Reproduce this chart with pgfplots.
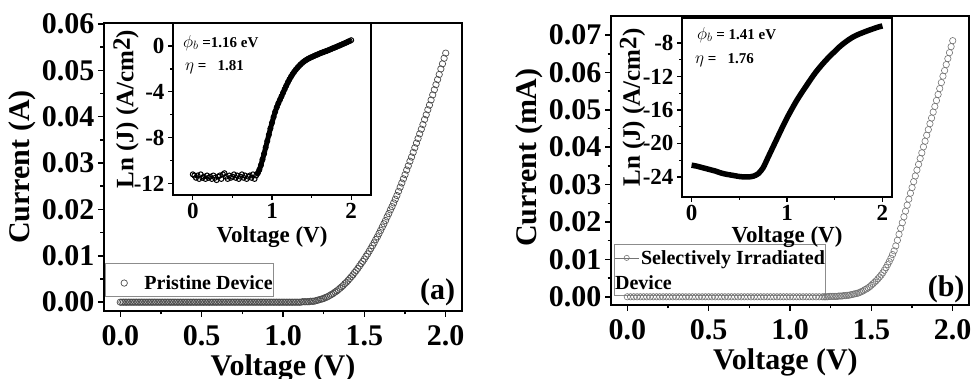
\documentclass[border=0pt]{standalone}
\usepackage{pgfplots}
\pgfplotsset{compat=1.18}
\usepackage{pgfplotstable}
\usepackage{fontspec}
\setmainfont{Liberation Serif}
\newcommand\fA{\fontsize{30}{32}\selectfont\bfseries}
\newcommand\fB{\fontsize{23}{25}\selectfont\bfseries}
\newcommand\fY{\fontsize{25}{27}\selectfont\bfseries}
\newcommand\fL{\fontsize{20}{25}\selectfont\bfseries}
\newcommand\fN{\fontsize{15}{17}\selectfont\bfseries}

\pgfplotstableread[row sep=\\]{x y\\
0.00 0\\0.01 0\\0.02 0\\0.03 0\\0.04 0\\0.05 0\\0.06 0\\0.07 0\\0.08 0\\0.09 0\\
0.10 0\\0.11 0\\0.12 0\\0.13 0\\0.14 0\\0.15 0\\0.16 0\\0.17 0\\0.18 0\\0.19 0\\
0.20 0\\0.21 0\\0.22 0\\0.23 0\\0.24 0\\0.25 0\\0.26 0\\0.27 0\\0.28 0\\0.29 0\\
0.30 0\\0.31 0\\0.32 0\\0.33 0\\0.34 0\\0.35 0\\0.36 0\\0.37 0\\0.38 0\\0.39 0\\
0.40 0\\0.41 0\\0.42 0\\0.43 0\\0.44 0\\0.45 0\\0.46 0\\0.47 0\\0.48 0\\0.49 0\\
0.50 0\\0.51 0\\0.52 0\\0.53 0\\0.54 0\\0.55 0\\0.56 0\\0.57 0\\0.58 0\\0.59 0\\
0.60 0\\0.61 0\\0.62 0\\0.63 0\\0.64 0\\0.65 0\\0.66 0\\0.67 0\\0.68 0\\0.69 0\\
0.70 0\\0.71 0\\0.72 0\\0.73 0\\0.74 0\\0.75 0\\0.76 0\\0.77 0\\0.78 0\\0.79 0\\
0.80 0\\0.81 0\\0.82 0\\0.83 0\\0.84 0\\0.85 0\\0.86 0\\0.87 0\\0.88 0\\0.89 0\\
0.90 0\\0.91 0\\0.92 0\\0.93 0\\0.94 0\\0.95 0\\0.96 0\\0.97 0\\0.98 0\\0.99 0\\
1.00 0\\1.01 0\\1.02 0\\1.03 0\\1.04 0\\1.05 0\\1.06 0\\1.07 0\\1.08 0\\1.09 0\\
1.10 0.0000\\1.11 0.0000\\1.12 0.0001\\1.13 0.0001\\1.14 0.0001\\1.15 0.0001\\1.16 0.0001\\1.17 0.0002\\1.18 0.0002\\1.19 0.0002\\
1.20 0.0003\\1.21 0.0004\\1.22 0.0005\\1.23 0.0006\\1.24 0.0007\\1.25 0.0008\\1.26 0.0010\\1.27 0.0011\\1.28 0.0013\\1.29 0.0015\\
1.30 0.0017\\1.31 0.0019\\1.32 0.0022\\1.33 0.0024\\1.34 0.0027\\1.35 0.0030\\1.36 0.0033\\1.37 0.0036\\1.38 0.0040\\1.39 0.0043\\
1.40 0.0047\\1.41 0.0051\\1.42 0.0055\\1.43 0.0059\\1.44 0.0064\\1.45 0.0068\\1.46 0.0073\\1.47 0.0078\\1.48 0.0083\\1.49 0.0088\\
1.50 0.0093\\1.51 0.0099\\1.52 0.0104\\1.53 0.0110\\1.54 0.0116\\1.55 0.0122\\1.56 0.0128\\1.57 0.0135\\1.58 0.0141\\1.59 0.0148\\
1.60 0.0155\\1.61 0.0162\\1.62 0.0169\\1.63 0.0176\\1.64 0.0184\\1.65 0.0191\\1.66 0.0199\\1.67 0.0206\\1.68 0.0214\\1.69 0.0222\\
1.70 0.0230\\1.71 0.0239\\1.72 0.0248\\1.73 0.0257\\1.74 0.0266\\1.75 0.0275\\1.76 0.0285\\1.77 0.0294\\1.78 0.0304\\1.79 0.0313\\
1.80 0.0323\\1.81 0.0333\\1.82 0.0343\\1.83 0.0353\\1.84 0.0363\\1.85 0.0373\\1.86 0.0383\\1.87 0.0394\\1.88 0.0404\\1.89 0.0415\\
1.90 0.0425\\1.91 0.0436\\1.92 0.0447\\1.93 0.0458\\1.94 0.0469\\1.95 0.0480\\1.96 0.0491\\1.97 0.0503\\1.98 0.0514\\1.99 0.0526\\
2.00 0.0537\\
}\dataA

\pgfplotstableread[row sep=\\]{x y\\
0.00 -11.2\\0.02 -11.3\\0.04 -11.5\\0.06 -11.3\\0.08 -11.6\\0.10 -11.2\\0.12 -11.5\\0.14 -11.4\\0.16 -11.6\\0.18 -11.3\\
0.20 -11.5\\0.22 -11.4\\0.24 -11.6\\0.26 -11.3\\0.28 -11.5\\0.30 -11.7\\0.32 -11.4\\0.34 -11.3\\0.36 -11.6\\0.38 -11.2\\
0.40 -11.1\\0.42 -11.4\\0.44 -11.6\\0.46 -11.3\\0.48 -11.5\\0.50 -11.4\\0.52 -11.2\\0.54 -11.5\\0.56 -11.3\\0.58 -11.6\\
0.60 -11.4\\0.62 -11.2\\0.64 -11.5\\0.66 -11.3\\0.68 -11.6\\0.70 -11.4\\0.72 -11.3\\0.74 -11.5\\0.76 -11.2\\0.78 -11.6\\
0.80 -11.3\\0.82 -11.1\\0.84 -10.8\\0.86 -10.4\\0.88 -9.9\\0.90 -9.4\\0.92 -8.85\\0.94 -8.3\\0.96 -7.75\\0.98 -7.2\\
1.00 -6.7\\1.02 -6.2\\1.04 -5.75\\1.06 -5.35\\1.08 -5.0\\1.10 -4.7\\1.12 -4.4\\1.14 -4.08\\1.16 -3.77\\1.18 -3.47\\
1.20 -3.18\\1.22 -2.92\\1.24 -2.68\\1.26 -2.46\\1.28 -2.26\\1.30 -2.08\\1.32 -1.91\\1.34 -1.76\\1.36 -1.62\\1.38 -1.49\\
1.40 -1.38\\1.42 -1.28\\1.44 -1.19\\1.46 -1.11\\1.48 -1.04\\1.50 -0.97\\1.52 -0.91\\1.54 -0.85\\1.56 -0.79\\1.58 -0.73\\
1.60 -0.67\\1.62 -0.61\\1.64 -0.56\\1.66 -0.51\\1.68 -0.46\\1.70 -0.41\\1.72 -0.35\\1.74 -0.29\\1.76 -0.23\\1.78 -0.17\\
1.80 -0.12\\1.82 -0.06\\1.84 0.00\\1.86 0.06\\1.88 0.12\\1.90 0.18\\1.92 0.24\\1.94 0.30\\1.96 0.37\\1.98 0.43\\
2.00 0.50\\
}\dataAin

\pgfplotstableread[row sep=\\]{x y\\
0.00 0\\0.02 0\\0.04 0\\0.06 0\\0.08 0\\0.10 0\\0.12 0\\0.14 0\\0.16 0\\0.18 0\\
0.20 0\\0.22 0\\0.24 0\\0.26 0\\0.28 0\\0.30 0\\0.32 0\\0.34 0\\0.36 0\\0.38 0\\
0.40 0\\0.42 0\\0.44 0\\0.46 0\\0.48 0\\0.50 0\\0.52 0\\0.54 0\\0.56 0\\0.58 0\\
0.60 0\\0.62 0\\0.64 0\\0.66 0\\0.68 0\\0.70 0\\0.72 0\\0.74 0\\0.76 0\\0.78 0\\
0.80 0\\0.82 0\\0.84 0\\0.86 0\\0.88 0\\0.90 0\\0.92 0\\0.94 0\\0.96 0\\0.98 0\\
1.00 0\\1.02 0\\1.04 0\\1.06 0\\1.08 0\\1.10 0\\1.12 0\\1.14 0\\1.16 0\\1.18 0\\
1.20 0.0000\\1.21 0.0000\\1.22 0.0000\\1.23 0.0000\\1.24 0.0001\\1.25 0.0001\\1.26 0.0001\\1.27 0.0001\\1.28 0.0001\\1.29 0.0001\\
1.30 0.0002\\1.31 0.0002\\1.32 0.0002\\1.33 0.0003\\1.34 0.0003\\1.35 0.0004\\1.36 0.0004\\1.37 0.0005\\1.38 0.0006\\1.39 0.0007\\
1.40 0.0008\\1.41 0.0009\\1.42 0.0010\\1.43 0.0012\\1.44 0.0014\\1.45 0.0016\\1.46 0.0019\\1.47 0.0021\\1.48 0.0024\\1.49 0.0027\\
1.50 0.0031\\1.51 0.0035\\1.52 0.0039\\1.53 0.0043\\1.54 0.0048\\1.55 0.0053\\1.56 0.0058\\1.57 0.0064\\1.58 0.0071\\1.59 0.0078\\
1.60 0.0086\\1.61 0.0094\\1.62 0.0103\\1.63 0.0113\\1.64 0.0123\\1.65 0.0136\\1.66 0.0151\\1.67 0.0167\\1.68 0.0183\\1.69 0.0198\\
1.70 0.0214\\1.71 0.0229\\1.72 0.0245\\1.73 0.0261\\1.74 0.0277\\1.75 0.0292\\1.76 0.0308\\1.77 0.0323\\1.78 0.0339\\1.79 0.0354\\
1.80 0.0370\\1.81 0.0385\\1.82 0.0401\\1.83 0.0416\\1.84 0.0432\\1.85 0.0447\\1.86 0.0463\\1.87 0.0478\\1.88 0.0494\\1.89 0.0509\\
1.90 0.0525\\1.91 0.0541\\1.92 0.0557\\1.93 0.0573\\1.94 0.0590\\1.95 0.0605\\1.96 0.0621\\1.97 0.0637\\1.98 0.0653\\1.99 0.0669\\
2.00 0.0685\\
}\dataB

\pgfplotstableread[row sep=\\]{x y\\
0.00 -22.6\\0.05 -22.7\\0.10 -22.85\\0.15 -23.0\\0.20 -23.15\\0.25 -23.3\\0.30 -23.5\\0.35 -23.65\\0.40 -23.75\\0.45 -23.85\\
0.50 -23.95\\0.55 -24.0\\0.60 -24.0\\0.65 -23.9\\0.70 -23.6\\0.75 -22.9\\0.80 -21.7\\0.85 -20.5\\0.90 -19.3\\0.95 -18.1\\
1.00 -16.95\\1.05 -15.9\\1.10 -14.9\\1.15 -14.0\\1.20 -13.15\\1.25 -12.3\\1.30 -11.5\\1.35 -10.8\\1.40 -10.15\\1.45 -9.55\\
1.50 -9.0\\1.55 -8.45\\1.60 -7.98\\1.65 -7.57\\1.70 -7.22\\1.75 -6.95\\1.80 -6.72\\1.85 -6.5\\1.90 -6.3\\1.95 -6.1\\
2.00 -5.95\\
}\dataBin

\pgfplotsset{
  mainax/.style={scale only axis, anchor=south west,
    axis line style={line width=2pt}, tick style={line width=1.5pt, black},
    tick align=outside, major tick length=6pt, minor tick length=3.5pt,
    xtick pos=bottom, ytick pos=left, minor tick num=1,
    tick label style={font=\fA}, label style={font=\fA},
    /pgf/number format/assume math mode=true,
    xmin=-0.1, xmax=2.1, xtick={0,0.5,1,1.5,2},
    xticklabel style={yshift=-5pt, /pgf/number format/fixed, /pgf/number format/fixed zerofill, /pgf/number format/precision=1},
    yticklabel style={/pgf/number format/fixed, /pgf/number format/fixed zerofill, /pgf/number format/precision=2},
    scaled y ticks=false, scaled x ticks=false, clip=false,
    legend cell align=left,
    legend style={draw=none, fill=none, inner sep=0pt, font=\fL, nodes={inner sep=0pt}}},
  insetax/.style={scale only axis, anchor=south west,
    axis background/.style={fill=white},
    axis line style={line width=2pt}, tick style={line width=1.3pt, black},
    tick align=outside, major tick length=5pt, minor tick length=3pt,
    xtick pos=bottom, ytick pos=left, minor tick num=1,
    tick label style={font=\fB}, xlabel style={font=\fB}, ylabel style={font=\fY},
    /pgf/number format/assume math mode=true, clip=false},
}

\begin{document}
\begin{tikzpicture}
\path[use as bounding box] (0,0) rectangle (971pt,379pt);

% ---------- panel (a) ----------
\begin{axis}[mainax, at={(104pt,68pt)}, width=358pt, height=288pt,
  ymin=-0.0019, ymax=0.0602, ytick={0,0.01,0.02,0.03,0.04,0.05,0.06},
  xlabel={Voltage (V)}, ylabel={Current (A)},
  xlabel style={at={(axis description cs:0.5,-0.152)}, anchor=north, inner sep=0pt},
  ylabel style={at={(axis description cs:-0.228,0.5)}, anchor=center, inner sep=0pt},
  legend style={at={(axis description cs:0.047,0.097)}, anchor=west,
    /tikz/every odd column/.append style={column sep=17pt}}]
\draw[black!45, line width=0.6pt] (axis description cs:0.003,0.167) rectangle (axis description cs:0.472,0.052);
\addplot[only marks, mark=o, mark size=3.2pt, color=black!70,
  mark options={line width=0.7pt}] table {\dataA};
\addlegendentry{Pristine Device}
\node[font=\fA] at (axis description cs:0.932,0.066) {(a)};
\end{axis}

\begin{axis}[insetax, at={(173pt,184pt)}, width=198pt, height=172pt,
  xmin=-0.25, xmax=2.25, ymin=-13, ymax=2, xtick={0,1,2}, ytick={-12,-8,-4,0},
  xlabel={Voltage (V)}, ylabel={Ln (J) (A/cm\raisebox{0.3ex}{2})},
  xlabel style={at={(axis description cs:0.5,-0.18)}, anchor=north, inner sep=0pt},
  ylabel style={at={(axis description cs:-0.237,0.5)}, anchor=center, inner sep=0pt}]
\addplot[black, line width=5pt, smooth, restrict x to domain=0.79:2.1] table {\dataAin};
\addplot[only marks, mark=o, mark size=2.5pt, black, mark options={line width=1pt}] table {\dataAin};
\node[anchor=west, font=\fN, inner sep=0pt] at (axis description cs:0.05,0.884)
  {{\fontsize{18}{18}\selectfont$\phi_b$} =1.16 eV};
\node[anchor=west, font=\fN, inner sep=0pt] at (axis description cs:0.06,0.744)
  {{\fontsize{17}{17}\selectfont$\eta$} = \ \ 1.81};
\end{axis}

% ---------- panel (b) ----------
\begin{axis}[mainax, at={(611pt,74pt)}, width=358pt, height=289pt,
  ymin=-0.0022, ymax=0.0751, ytick={0,0.01,0.02,0.03,0.04,0.05,0.06,0.07},
  xlabel={Voltage (V)}, ylabel={Current (mA)},
  xlabel style={at={(axis description cs:0.487,-0.152)}, anchor=north, inner sep=0pt},
  ylabel style={at={(axis description cs:-0.229,0.51)}, anchor=center, inner sep=0pt},
  legend style={at={(axis description cs:0.009,0.163)}, anchor=west,
    /tikz/every odd column/.append style={column sep=2pt}},
  legend image code/.code={\draw[#1, mark repeat=2, mark phase=2] plot coordinates {(0pt,0pt) (12pt,0pt) (24pt,0pt)};}]
\draw[black!45, line width=0.6pt] (axis description cs:0.008,0.211) rectangle (axis description cs:0.598,0.035);
\addplot[only marks, mark=o, mark size=3.2pt, color=black!55,
  mark options={line width=0.6pt, fill=white}, forget plot] table {\dataB};
\addlegendimage{black!55, mark=o, mark size=2.6pt, line width=0.6pt, mark options={solid, fill=white}}
\addlegendentry{Selectively Irradiated}
\node[anchor=west, font=\fL, inner sep=0pt] at (axis description cs:0.011,0.076) {Device};
\node[font=\fA] at (axis description cs:0.936,0.055) {(b)};
\end{axis}

\begin{axis}[insetax, at={(682pt,182pt)}, width=210pt, height=179pt,
  xmin=-0.1, xmax=2.1, ymin=-26.4, ymax=-5, xtick={0,1,2}, ytick={-24,-20,-16,-12,-8},
  xlabel={Voltage (V)}, ylabel={Ln (J) (A/cm\raisebox{0.3ex}{2})},
  xlabel style={at={(axis description cs:0.5,-0.162)}, anchor=north, inner sep=0pt},
  ylabel style={at={(axis description cs:-0.236,0.5)}, anchor=center, inner sep=0pt}]
\addplot[black, line width=5.5pt, smooth] table {\dataBin};
\node[anchor=west, font=\fN, inner sep=0pt] at (axis description cs:0.071,0.905)
  {{\fontsize{18}{18}\selectfont$\phi_b$} = 1.41 eV};
\node[anchor=west, font=\fN, inner sep=0pt] at (axis description cs:0.062,0.765)
  {{\fontsize{17}{17}\selectfont$\eta$} = \ \ 1.76};
\end{axis}
\end{tikzpicture}
\end{document}
